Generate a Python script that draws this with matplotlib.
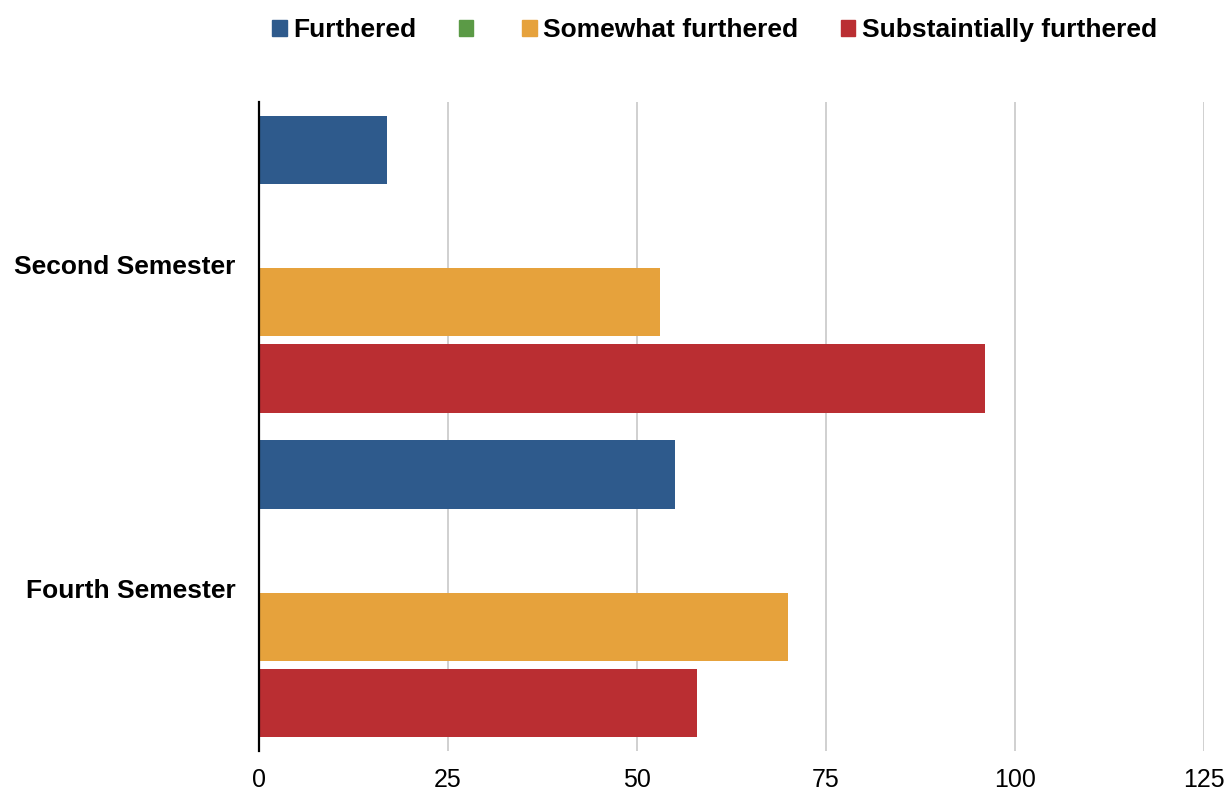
import matplotlib.pyplot as plt
from matplotlib.patches import Patch
import numpy as np

plt.rcParams['font.family'] = ['Liberation Sans', 'DejaVu Sans']

categories = ['Second Semester', 'Fourth Semester']
series_names = ['Furthered', '', 'Somewhat furthered', 'Substaintially furthered']
furthered = [17, 55]
green_series = [0, 0]
somewhat = [53, 70]
substantially = [96, 58]
colors = ['#2e5a8c', '#5b9a46', '#e6a23c', '#ba2e32']

values = [furthered, green_series, somewhat, substantially]

fig = plt.figure(figsize=(12.32, 7.94), dpi=100)
ax = fig.add_axes([0.2102, 0.0542, 0.767, 0.8173])

y = np.arange(len(categories))
step = 0.2346
height = 0.21
for i, (vals, col) in enumerate(zip(values, colors)):
    offs = (i - 1.5) * step
    ax.barh(y + offs, vals, height=height, color=col, zorder=3)

ax.set_ylim(1.5, -0.5)
ax.set_xlim(0, 125)
ax.set_xticks([0, 25, 50, 75, 100, 125])
ax.set_yticks(y)
ax.set_yticklabels(categories, fontsize=19, fontweight='bold')
ax.tick_params(axis='y', length=0, pad=17)
ax.tick_params(axis='x', length=0, labelsize=18, pad=12)
ax.grid(axis='x', color='#c8c8c8', linewidth=1.2, zorder=0)
for s in ['top', 'right', 'bottom']:
    ax.spines[s].set_visible(False)
ax.spines['left'].set_color('black')
ax.spines['left'].set_linewidth(1.6)
ax.spines['left'].set_zorder(4)

handles = [Patch(color=c) for c in colors]
fig.legend(handles, series_names, loc='upper center', bbox_to_anchor=(0.58, 1.007),
           ncol=4, frameon=False, handlelength=0.55, handleheight=0.55,
           handletextpad=0.25, columnspacing=1.6,
           prop={'size': 19, 'weight': 'bold'})

fig.savefig('out.png', dpi=100)
